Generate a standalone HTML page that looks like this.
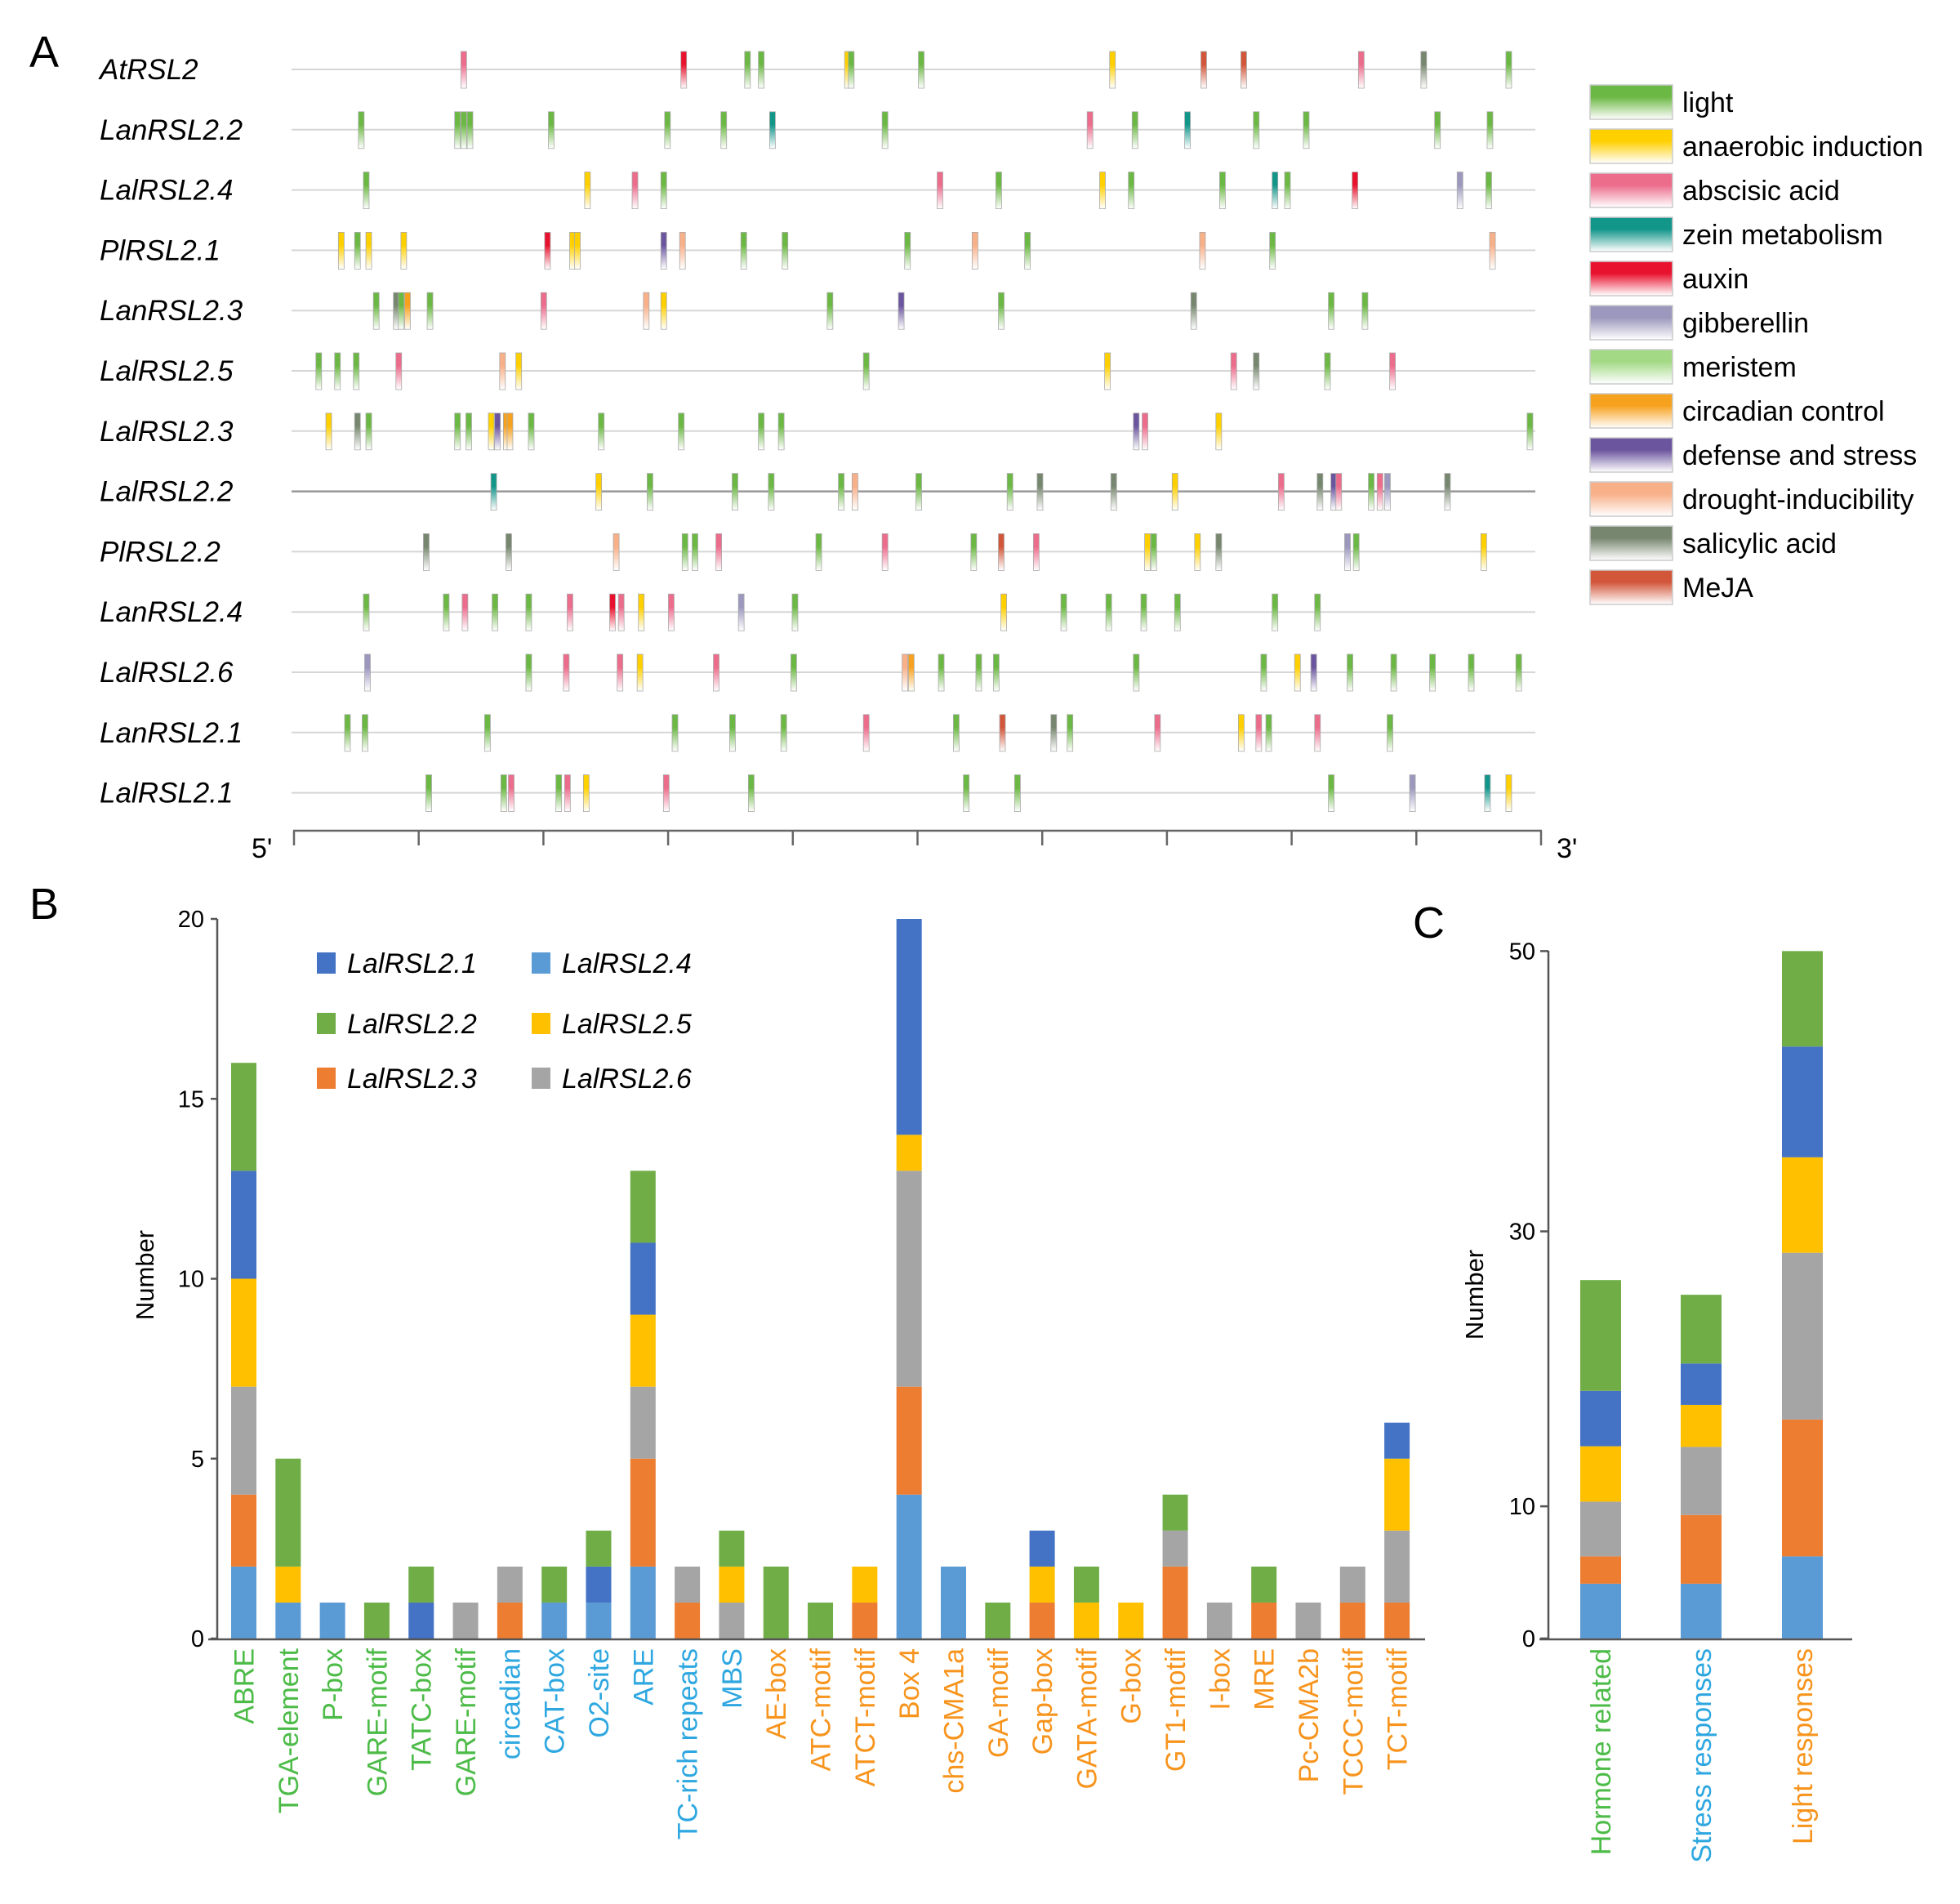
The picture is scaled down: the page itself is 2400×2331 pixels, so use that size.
<!DOCTYPE html>
<html><head><meta charset="utf-8"><style>
html,body{margin:0;padding:0;background:#fff;}
svg{display:block;font-family:"Liberation Sans",Arial,sans-serif;}
</style></head><body>
<svg id="s" width="2400" height="2331" viewBox="0 0 2400 2331" xmlns="http://www.w3.org/2000/svg">
<defs id="d"></defs>
<text x="36" y="82" font-size="54">A</text>
<text x="36" y="1125" font-size="54">B</text>
<text x="1730" y="1148" font-size="54">C</text>
<g id="A"></g><g id="B"></g><g id="C"></g>
</svg>
<script>
const NS="http://www.w3.org/2000/svg";
function el(p,t,a,txt){const e=document.createElementNS(NS,t);for(const k in a)e.setAttribute(k,a[k]);if(txt!==undefined)e.textContent=txt;p.appendChild(e);return e;}
const defs=document.getElementById('d'),A=document.getElementById('A'),B=document.getElementById('B'),C=document.getElementById('C');
const col={L:'#6cb844',Y:'#ffd000',P:'#ec6c8c',Z:'#13968a',X:'#e8122e',G:'#9b97bd',M:'#a3d985',O:'#f7a21f',D:'#6a559e',R:'#f8b088',S:'#77876f',J:'#d2563a'};
for(const k in col){const g=el(defs,'linearGradient',{id:'g'+k,x1:0,y1:0,x2:0,y2:1});el(g,'stop',{offset:'0','stop-color':col[k]});el(g,'stop',{offset:'0.35','stop-color':col[k]});el(g,'stop',{offset:'1','stop-color':'#fff'});}
const names=['AtRSL2','LanRSL2.2','LalRSL2.4','PlRSL2.1','LanRSL2.3','LalRSL2.5','LalRSL2.3','LalRSL2.2','PlRSL2.2','LanRSL2.4','LalRSL2.6','LanRSL2.1','LalRSL2.1'];
const rows=[
"371P 547X 598L 609L 678Y 681L 737L 890Y 963J 995J 1089P 1139S 1207L",
"289L 366L 371L 376L 441L 534L 579L 618Z 708L 872P 908L 950Z 1005L 1045L 1150L 1192L",
"293L 470Y 508P 531L 752P 799L 882Y 905L 978L 1020Z 1030L 1084X 1168G 1191L",
"273Y 286L 295Y 323Y 438X 458Y 462Y 531D 546R 595L 628L 726L 780R 822L 962R 1018L 1194R",
"301L 317S 321L 326O 344L 435P 517R 531Y 664L 721D 801L 955S 1065L 1092L",
"255L 270L 285L 319P 402R 415Y 693L 886Y 987P 1005S 1062L 1114P",
"263Y 286S 295L 366L 375L 393Y 398D 405O 408O 425L 481L 545L 609L 625L 909D 916P 975Y 1224L",
"395Z 479Y 520L 588L 617L 673L 684R 735L 808L 832S 891S 940Y 1025P 1056S 1067D 1071P 1097L 1104P 1110G 1158S",
"341S 407S 493R 548L 556L 575P 655L 708P 779L 801J 829P 918Y 923L 958Y 975S 1078G 1085L 1187Y",
"293L 357L 372P 396L 423L 456P 490X 497P 513Y 537P 593G 636L 803Y 851L 887L 915L 942L 1020L 1054L",
"294G 423L 453P 496P 512Y 573P 635L 724R 729O 753L 783L 797L 909L 1011L 1038Y 1051D 1080L 1115L 1146L 1177L 1215L",
"278L 292L 390L 540L 586L 627L 693P 765L 802J 843S 856L 926P 993Y 1007P 1015L 1054P 1112L",
"343L 403L 409P 447L 454P 469Y 533P 601L 773L 814L 1065L 1130G 1190Z 1207Y"];
for(let i=0;i<13;i++){const y=85+73.8*i;
 el(A,'text',{x:122,y:y+12,'font-size':35,'font-style':'italic'},names[i]);
 el(A,'line',{x1:357,y1:y,x2:1880,y2:y,stroke:i==7?'#999':'#d6d6d6','stroke-width':i==7?2.5:2});
 rows[i].split(' ').forEach(t=>{const x=parseFloat(t)*1.5306,k=t.slice(-1);
  el(A,'rect',{x:x-3.5,y:y-22,width:7,height:45,fill:'url(#g'+k+')',stroke:'#aaa','stroke-width':0.8});});
}
el(A,'line',{x1:359,y1:1017,x2:1888,y2:1017,stroke:'#666','stroke-width':2.5});
for(let j=0;j<11;j++){const x=360+152.7*j;el(A,'line',{x1:x,y1:1017,x2:x,y2:1035,stroke:'#666','stroke-width':2.5});}
el(A,'text',{x:308,y:1050,'font-size':34},"5'");
el(A,'text',{x:1906,y:1050,'font-size':34},"3'");
const lg=[['L','light'],['Y','anaerobic induction'],['P','abscisic acid'],['Z','zein metabolism'],['X','auxin'],['G','gibberellin'],['M','meristem'],['O','circadian control'],['D','defense and stress'],['R','drought-inducibility'],['S','salicylic acid'],['J','MeJA']];
lg.forEach((l,i)=>{const cy=125+54*i;el(A,'rect',{x:1947,y:cy-21,width:101,height:42,fill:'url(#g'+l[0]+')',stroke:'#ccc','stroke-width':1.5});el(A,'text',{x:2060,y:cy+12,'font-size':34},l[1]);});
// B
const bc=['#5b9bd5','#ed7d31','#a5a5a5','#ffc000','#4472c4','#70ad47'];
const cats=[['ABRE',[2,2,3,3,3,3]],['TGA-element',[1,0,0,1,0,3]],['P-box',[1,0,0,0,0,0]],['GARE-motif',[0,0,0,0,0,1]],['TATC-box',[0,0,0,0,1,1]],['GARE-motif',[0,0,1,0,0,0]],['circadian',[0,1,1,0,0,0]],['CAT-box',[1,0,0,0,0,1]],['O2-site',[1,0,0,0,1,1]],['ARE',[2,3,2,2,2,2]],['TC-rich repeats',[0,1,1,0,0,0]],['MBS',[0,0,1,1,0,1]],['AE-box',[0,0,0,0,0,2]],['ATC-motif',[0,0,0,0,0,1]],['ATCT-motif',[0,1,0,1,0,0]],['Box 4',[4,3,6,1,6,0]],['chs-CMA1a',[2,0,0,0,0,0]],['GA-motif',[0,0,0,0,0,1]],['Gap-box',[0,1,0,1,1,0]],['GATA-motif',[0,0,0,1,0,1]],['G-box',[0,0,0,1,0,0]],['GT1-motif',[0,2,1,0,0,1]],['I-box',[0,0,1,0,0,0]],['MRE',[0,1,0,0,0,1]],['Pc-CMA2b',[0,0,1,0,0,0]],['TCCC-motif',[0,1,1,0,0,0]],['TCT-motif',[0,1,2,2,1,0]]];
const y0=2006,u=44.05;
cats.forEach((c,i)=>{const cx=298.5+52.3*i*27/26;let b=y0;
 c[1].forEach((v,k)=>{if(v){el(B,'rect',{x:cx-15.5,y:b-v*u,width:31,height:v*u,fill:bc[k]});b-=v*u;}});
 const lc=i<6?'#4cbb47':i<12?'#2ea7e0':'#f7941d';
 el(B,'text',{transform:`translate(${cx+12},2018) rotate(-90)`,'text-anchor':'end','font-size':34,fill:lc},c[0]);
});
el(B,'line',{x1:266,y1:1125,x2:266,y2:2007,stroke:'#555','stroke-width':2.5});
el(B,'line',{x1:255,y1:2007,x2:1745,y2:2007,stroke:'#555','stroke-width':2.5});
[0,5,10,15,20].forEach(v=>{const y=y0-v*u;el(B,'line',{x1:258,y1:y,x2:266,y2:y,stroke:'#555','stroke-width':2.5});el(B,'text',{x:250,y:y+10,'text-anchor':'end','font-size':29},v);});
el(B,'text',{transform:'translate(188,1561) rotate(-90)','text-anchor':'middle','font-size':31},'Number');
const lgB=[['LalRSL2.1',4,388,1179],['LalRSL2.4',0,651,1179],['LalRSL2.2',5,388,1253],['LalRSL2.5',3,651,1253],['LalRSL2.3',1,388,1320],['LalRSL2.6',2,651,1320]];
lgB.forEach(l=>{el(B,'rect',{x:l[2],y:l[3]-13,width:23,height:26,fill:bc[l[1]]});el(B,'text',{x:l[2]+37,y:l[3]+12,'font-size':34,'font-style':'italic'},l[0]);});
// C
const Y=z=>1050+z/1.224;
const cb=[[1935,[1170,1088,1047,965,882,799,633],'Hormone related','#4cbb47'],[2058,[1170,1088,985,883,820,758,655],'Stress responses','#2ea7e0'],[2182,[1170,1047,842,592,449,283,140],'Light responses','#f7941d']];
cb.forEach(b=>{for(let k=0;k<6;k++){el(C,'rect',{x:b[0],y:Y(b[1][k+1]),width:50,height:Y(b[1][k])-Y(b[1][k+1]),fill:bc[k]});}
 el(C,'text',{transform:`translate(${b[0]+37},2018) rotate(-90)`,'text-anchor':'end','font-size':34,fill:b[3]},b[2]);});
el(C,'line',{x1:1896,y1:1164,x2:1896,y2:2007,stroke:'#555','stroke-width':2.5});
el(C,'line',{x1:1885,y1:2007,x2:2268,y2:2007,stroke:'#555','stroke-width':2.5});
[[0,1170],[10,972],[30,560],[50,140]].forEach(t=>{const y=Y(t[1]);el(C,'line',{x1:1886,y1:y,x2:1896,y2:y,stroke:'#555','stroke-width':2.5});el(C,'text',{x:1880,y:y+10,'text-anchor':'end','font-size':29},t[0]);});
el(C,'text',{transform:'translate(1816,1585) rotate(-90)','text-anchor':'middle','font-size':31},'Number');
</script>
</body></html>
